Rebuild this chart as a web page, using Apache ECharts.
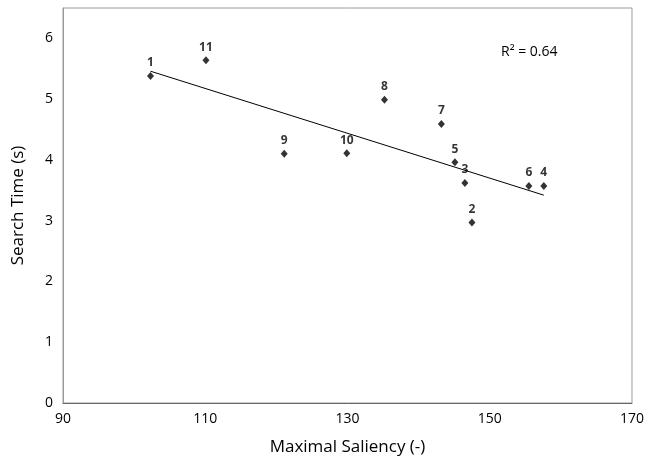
<!DOCTYPE html>
<html>
<head>
<meta charset="utf-8">
<script src="https://cdn.jsdelivr.net/npm/echarts@6/dist/echarts.min.js"></script>
<style>html,body{margin:0;padding:0;background:#fff}#c{width:647px;height:461px}</style>
</head>
<body>
<div id="c"></div>
<script>
const pointLabels = ['1','2','3','4','5','6','7','8','9','10','11'];
const saliency = [102.3, 147.5, 146.5, 157.6, 145.1, 155.5, 143.2, 135.2, 121.1, 129.9, 110.1];
const searchTime = [5.38, 2.97, 3.62, 3.57, 3.96, 3.57, 4.59, 4.99, 4.10, 4.11, 5.64];
const trendX = [102.3, 157.6];
const trendY = [5.46, 3.42];
const xTicks = [90, 110, 130, 150, 170];
const yTicks = [0, 1, 2, 3, 4, 5, 6];
const rSquaredText = 'R\u00B2 = 0.64';

const FONT = 'Open Sans';
const chart = echarts.init(document.getElementById('c'), null, {renderer: 'canvas'});
chart.setOption({
  animation: false,
  backgroundColor: '#fff',
  title: {
    text: rSquaredText, left: 496, top: 40,
    textStyle: {fontFamily: FONT, fontSize: 14, fontWeight: 'normal', color: '#000'}
  },
  grid: {left: 63, right: 12, top: 8, bottom: 55, show: true, borderColor: '#9a9a9a', borderWidth: 1, containLabel: false},
  xAxis: {
    type: 'value', min: 90, max: 170, interval: 10,
    name: 'Maximal Saliency (-)', nameLocation: 'middle', nameGap: 36,
    nameTextStyle: {fontFamily: FONT, fontSize: 17, color: '#000'},
    axisLine: {show: true, lineStyle: {color: '#666', width: 1}},
    axisTick: {show: false},
    splitLine: {show: false},
    axisLabel: {
      fontFamily: FONT, fontSize: 14, color: '#000', margin: 9,
      formatter: v => xTicks.includes(v) ? String(v) : ''
    }
  },
  yAxis: {
    type: 'value', min: 0, max: 6.5, interval: 1,
    name: 'Search Time (s)', nameLocation: 'middle', nameGap: 36, nameRotate: 90,
    nameTextStyle: {fontFamily: FONT, fontSize: 17, color: '#000'},
    axisLine: {show: true, lineStyle: {color: '#9a9a9a', width: 1}},
    axisTick: {show: false},
    splitLine: {show: false},
    axisLabel: {
      fontFamily: FONT, fontSize: 14, color: '#000', margin: 10, showMaxLabel: false,
      formatter: v => yTicks.includes(v) ? String(v) : ''
    }
  },
  series: [
    {
      type: 'line',
      data: trendX.map((x, i) => [x, trendY[i]]),
      showSymbol: false, symbol: 'none',
      lineStyle: {color: '#000', width: 1},
      silent: true, z: 1
    },
    {
      type: 'scatter',
      data: saliency.map((x, i) => ({value: [x, searchTime[i]], name: pointLabels[i]})),
      symbol: 'diamond', symbolSize: [7, 8],
      itemStyle: {color: '#000'},
      label: {
        show: true, position: 'top', distance: 3,
        formatter: p => p.name,
        fontFamily: FONT, fontSize: 12, fontWeight: 'bold', color: '#000'
      },
      z: 2
    }
  ]
});
</script>
</body>
</html>
